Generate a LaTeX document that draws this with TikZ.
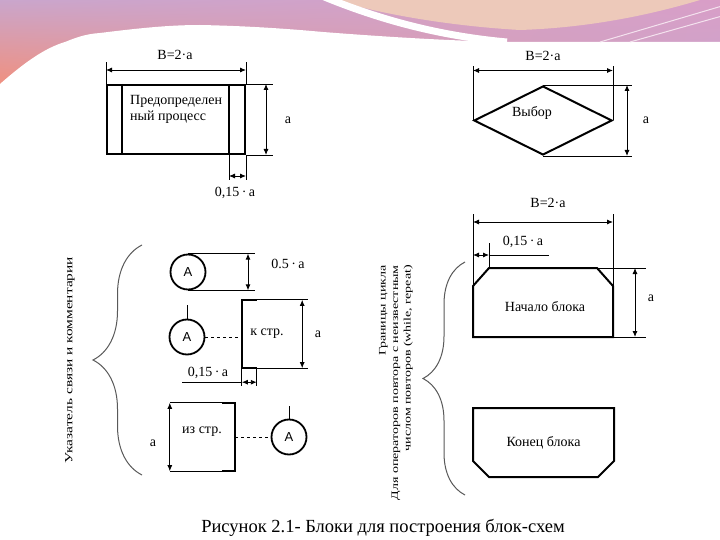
\documentclass[tikz,border=0pt]{standalone}
\usepackage{fontspec}
\setmainfont{Liberation Serif}
\newfontfamily\krugfont{Liberation Sans}
\newfontfamily\shirfont[FakeStretch=1.4]{Liberation Serif}
\usetikzlibrary{arrows.meta,calc,positioning,shapes.geometric,shadings,decorations.pathreplacing}
\definecolor{slidepurple}{rgb}{0.79,0.65,0.80}
\definecolor{slidepeach}{rgb}{0.93,0.79,0.73}
\definecolor{slideorange}{rgb}{0.95,0.56,0.48}
\definecolor{slidepink}{rgb}{0.85,0.62,0.78}
\definecolor{bracegray}{rgb}{0.35,0.35,0.35}
\tikzset{
  blok/.style={
    draw,
    line width=2pt,
    inner sep=0pt,
    font=\fontsize{14}{16}\selectfont
  },
  razm/.style={
    line width=0.9pt
  },
  strelka/.style={
    razm,
    {Latex[length=6pt,width=5pt]}-{Latex[length=6pt,width=5pt]}
  },
  metka/.style={
    inner sep=0pt,
    font=\fontsize{14}{16}\selectfont
  },
  krug/.style={
    circle,
    draw,
    line width=1.8pt,
    minimum size=35pt,
    inner sep=0pt,
    font=\krugfont\fontsize{13}{15}\selectfont
  },
  skobka/.style={
    decorate,
    decoration={brace, amplitude=#1},
    bracegray,
    line width=1pt
  },
  podpis/.style={
    inner sep=0pt,
    rotate=90,
    font=\shirfont\fontsize{11}{12.5}\selectfont
  }
}

\begin{document}
\begin{tikzpicture}[x=1pt, y=-1pt]
\useasboundingbox (0,0) rectangle (720,540);
% slide decoration
\shade[upper left=slidepurple, upper right=slidepink, lower left=slideorange, lower right=slidepurple] (0,0) rectangle (720,90);
\fill[slidepeach] (335,0) -- (700,0) .. controls (640,18) and (580,28) .. (520,30) .. controls (450,26) and (380,14) .. (335,0) -- cycle;
\fill[white] (0,84) .. controls (25,62) and (45,48) .. (65,42) .. controls (75,38) and (85,34) .. (100,33) .. controls (140,28) and (170,25) .. (200,25) .. controls (250,26) and (290,29) .. (323,32) .. controls (400,38) and (460,41) .. (507,42) -- (720,42) -- (720,540) -- (0,540) -- cycle;
\draw[white, line width=7pt] (322,-4) .. controls (380,20) and (440,36) .. (507,42);
\draw[white!70!slidepink, line width=1pt] (600,42) -- (722,6);
\draw[white!70!slidepink, line width=1pt] (630,42) -- (722,16);

% predefined process
\node[blok, rectangle, minimum width=138pt, minimum height=69pt] (pp) at (176,119.5) {};
\draw[blok] ($(pp.north west)+(16,0)$) -- ($(pp.south west)+(16,0)$);
\draw[blok] ($(pp.north east)+(-17,0)$) -- ($(pp.south east)+(-17,0)$);
\node[metka, align=left, anchor=north west] (pptxt) at (130,95) {Предопределен\\ный процесс};
\draw[razm] (pp.north west) -- ++(0,-22);
\draw[razm] (pp.north east) -- ++(0,-22);
\draw[strelka] ($(pp.north west)+(0,-14)$) -- ($(pp.north east)+(0,-14)$);
\node[metka] (ppB) at (175,55) {В=2·а};
\draw[razm] (pp.north east) -- ++(27,0);
\draw[razm] (pp.south east) -- ++(27,0);
\draw[strelka] ($(pp.north east)+(20,0)$) -- ($(pp.south east)+(20,0)$);
\node[metka] (ppa) at (288,120) {а};
\draw[razm] ($(pp.south east)+(-17,0)$) -- ++(0,25);
\draw[razm] (pp.south east) -- ++(0,25);
\draw[strelka] ($(pp.south east)+(-17,21)$) -- ($(pp.south east)+(0,21)$);
\node[metka] (pp15) at (235,193) {0,15\,·\,а};

% choice
\node[blok, diamond, aspect=2, minimum width=138pt, minimum height=69pt] (vyb) at (543,120.5) {};
\node[metka] (vybtxt) at (532,113) {Выбор};
\draw[razm] (vyb.west) -- ++(0,-54);
\draw[razm] (vyb.east) -- ++(0,-54);
\draw[strelka] ($(vyb.west)+(0,-50)$) -- ($(vyb.east)+(0,-50)$);
\node[metka] (vybB) at (543,56) {В=2·а};
\draw[razm] (vyb.north) -- ++(89,0);
\draw[razm] (vyb.south) -- ++(89,0);
\draw[strelka] ($(vyb.north)+(84,0)$) -- ($(vyb.south)+(84,0)$);
\node[metka] (vyba) at (646,120) {а};

% block start
\node[blok, draw=none, minimum width=138pt, minimum height=67pt] (nach) at (543,302.5) {};
\node[metka] (nachtxt) at (545,307) {Начало блока};
\draw[blok] (nach.south west) -- ($(nach.north west)+(0,18)$) -- ($(nach.north west)+(16,0)$) -- ($(nach.north east)+(-16,0)$) -- ($(nach.north east)+(0,18)$) -- (nach.south east) -- cycle;
\draw[razm] ($(nach.north west)+(0,18)$) -- ($(nach.north west)+(0,-54)$);
\draw[razm] ($(nach.north east)+(0,18)$) -- ($(nach.north east)+(0,-54)$);
\draw[strelka] ($(nach.north west)+(0,-46)$) -- ($(nach.north east)+(0,-46)$);
\node[metka] (nachB) at (548,203) {В=2·а};
\draw[razm] ($(nach.north west)+(16,0)$) -- ++(0,-25);
\draw[strelka] ($(nach.north west)+(0,-13)$) -- ($(nach.north west)+(16,-13)$);
\draw[razm] ($(nach.north west)+(16,-13)$) -- ($(nach.north west)+(76,-13)$);
\node[metka] (nach15) at (523,242) {0,15\,·\,а};
\draw[razm] ($(nach.north east)+(-16,0)$) -- ($(nach.north east)+(33,0)$);
\draw[razm] (nach.south east) -- ++(33,0);
\draw[strelka] ($(nach.north east)+(22,0)$) -- ($(nach.south east)+(22,0)$);
\node[metka] (nacha) at (651,298) {а};

% block end
\node[blok, draw=none, minimum width=139pt, minimum height=67pt] (kon) at (543.5,442.5) {Конец блока};
\draw[blok] (kon.north west) -- (kon.north east) -- ($(kon.south east)+(0,-16)$) -- ($(kon.south east)+(-16,0)$) -- ($(kon.south west)+(16,0)$) -- ($(kon.south west)+(0,-16)$) -- cycle;

% connectors and comments
\node[krug] (kr1) at (188,272) {А};
\draw[razm] (kr1.north) -- ++(67,0);
\draw[razm] (kr1.south) -- ++(67,0);
\draw[strelka] ($(kr1.north)+(60,0)$) -- ($(kr1.south)+(60,0)$);
\node[metka] (kr1d) at (288,264) {0.5\,·\,а};

\node[krug] (kr2) at (187,337) {А};
\draw[razm] (kr2.north) -- ++(0,-14);
\node[minimum width=60pt, minimum height=68pt, inner sep=0pt] (kbox) at (272,334) {};
\node[metka] (kstr) at (267,334) {к стр.};
\draw[blok] ($(kbox.north west)+(15,0)$) -- (kbox.north west) -- (kbox.south west) -- ($(kbox.south west)+(15,0)$);
\draw[razm, dashed] (kr2.east) -- (kr2.east -| kbox.west);
\draw[razm] ($(kbox.north west)+(15,0)$) -- ($(kbox.north east)+(6,0)$);
\draw[razm] ($(kbox.south west)+(15,0)$) -- ($(kbox.south east)+(6,0)$);
\draw[strelka] (kbox.north east) -- (kbox.south east);
\node[metka] (kboxa) at (318,334) {а};
\draw[razm] (kbox.south west) -- ++(0,18);
\draw[razm] ($(kbox.south west)+(15,0)$) -- ++(0,18);
\draw[strelka] ($(kbox.south west)+(0,14)$) -- ($(kbox.south west)+(15,14)$);
\draw[razm] ($(kbox.south west)+(0,14)$) -- ($(kbox.south west)+(-60,14)$);
\node[metka] (kbox15) at (208,373) {0,15\,·\,а};

\node[minimum width=65pt, minimum height=68pt, inner sep=0pt] (izbox) at (202.5,437) {};
\node[metka] (izstr) at (202,432) {из стр.};
\draw[blok] ($(izbox.north east)+(-13,0)$) -- (izbox.north east) -- (izbox.south east) -- ($(izbox.south east)+(-13,0)$);
\draw[razm] (izbox.north west) -- ($(izbox.north east)+(-13,0)$);
\draw[razm] (izbox.south west) -- ($(izbox.south east)+(-13,0)$);
\draw[strelka] (izbox.north west) -- (izbox.south west);
\node[metka] (izboxa) at (153,443) {а};
\node[krug] (kr3) at (289,437) {А};
\draw[razm, dashed] (izbox.east) -- (kr3.west);
\draw[razm] (kr3.north) -- ++(0,-13);

% braces and side captions
\draw[skobka=49pt] (142,475) -- (142,245);
\node[podpis] (ukaz) at (70,360) {Указатель связи и комментарии};
\draw[skobka=42pt] (465,495) -- (465,262);
\node[podpis, align=right, anchor=east, font=\shirfont\fontsize{10}{12.5}\selectfont] (gran) at (396,265) {Границы цикла\\Для операторов повтора с неизвестным\\числом повторов (while, repeat)};

% caption
\node[metka, font=\fontsize{18.5}{20}\selectfont] (cap) at (383,528) {Рисунок 2.1- Блоки для построения блок-схем};
\end{tikzpicture}
\end{document}
